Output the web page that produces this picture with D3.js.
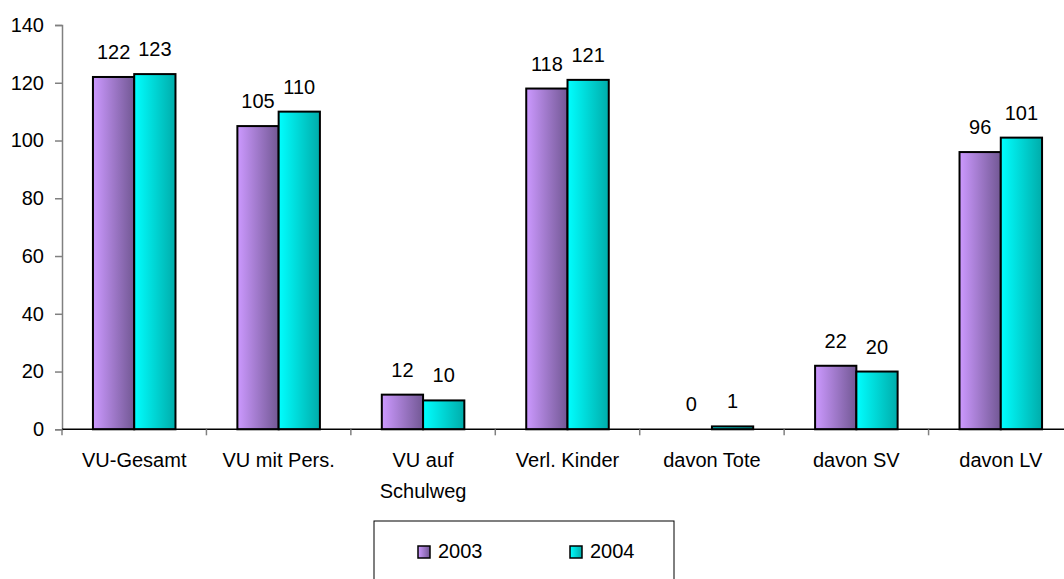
<!DOCTYPE html>
<html><head><meta charset="utf-8">
<script src="https://cdn.jsdelivr.net/npm/d3@7"></script>
<style>body{margin:0;background:#fff;} svg{display:block;font-family:"Liberation Sans",Arial,sans-serif;}</style>
</head><body>
<svg id="c" width="1064" height="579"></svg>
<script>
const categories = ["VU-Gesamt", "VU mit Pers.", "VU auf\nSchulweg", "Verl. Kinder", "davon Tote", "davon SV", "davon LV"];
const series = ["2003", "2004"];
const values2003 = [122, 105, 12, 118, 0, 22, 96];
const values2004 = [123, 110, 10, 121, 1, 20, 101];
const yTicks = [0, 20, 40, 60, 80, 100, 120, 140];

(function () {
const FS = 20;
const svg = d3.select("#c");
const defs = svg.append("defs");
function grad(id, c1, c2) {
  const g = defs.append("linearGradient").attr("id", id).attr("x1", "0").attr("x2", "1").attr("y1", "0").attr("y2", "0");
  g.append("stop").attr("offset", "0").attr("stop-color", c1);
  g.append("stop").attr("offset", "1").attr("stop-color", c2);
}
grad("g2003", "#cc99ff", "#725894");
grad("g2004", "#00ffff", "#00acaa");
const fills = {"2003": "url(#g2003)", "2004": "url(#g2004)"};

const pLeft = 62, pRight = 1073, pTop = 25, pBottom = 429.3;
const x = d3.scaleBand().domain(categories).range([pLeft, pRight]).paddingInner(0).paddingOuter(0);
const xs = d3.scaleBand().domain(series).range([0, x.bandwidth()]).paddingInner(0).paddingOuter(0.75);
const y = d3.scaleLinear().domain([0, 140]).range([pBottom, pTop]);

// y axis
const ya = svg.append("g").attr("transform", `translate(${pLeft},0)`)
  .call(d3.axisLeft(y).tickValues(yTicks).tickSize(7).tickPadding(11));
ya.select(".domain").attr("stroke", "#808080").attr("stroke-width", 1.5);
ya.selectAll(".tick line").attr("stroke", "#808080").attr("stroke-width", 1.5);
ya.selectAll("text").attr("font-size", FS).attr("fill", "#000").attr("font-family", "Liberation Sans, Arial, sans-serif");

const data = [];
categories.forEach((c, i) => {
  data.push({c, s: "2003", v: values2003[i]});
  data.push({c, s: "2004", v: values2004[i]});
});

const bars = svg.append("g");
bars.selectAll("rect").data(data).join("rect")
  .attr("x", d => x(d.c) + xs(d.s))
  .attr("width", xs.bandwidth())
  .attr("y", d => y(d.v))
  .attr("height", d => y(0) - y(d.v))
  .attr("fill", d => fills[d.s])
  .attr("stroke", "#000").attr("stroke-width", 2);

svg.append("g").selectAll("text").data(data).join("text")
  .attr("x", d => x(d.c) + xs(d.s) + xs.bandwidth() / 2)
  .attr("y", d => y(d.v) - 18)
  .attr("text-anchor", "middle")
  .attr("font-size", FS)
  .text(d => d.v);

// x axis
const xa = svg.append("g").attr("transform", `translate(0,${pBottom})`);
xa.append("line").attr("x1", pLeft).attr("x2", 1064).attr("stroke", "#000").attr("stroke-width", 1.5);
xa.selectAll("line.t").data(d3.range(categories.length + 1)).join("line").attr("class", "t")
  .attr("x1", i => pLeft + i * x.bandwidth()).attr("x2", i => pLeft + i * x.bandwidth())
  .attr("y1", 0).attr("y2", 6).attr("stroke", "#808080").attr("stroke-width", 1.5);
categories.forEach(c => {
  const t = xa.append("text").attr("x", x(c) + x.bandwidth() / 2).attr("y", 38)
    .attr("text-anchor", "middle").attr("font-size", FS);
  c.split("\n").forEach((line, j) => {
    t.append("tspan").attr("x", x(c) + x.bandwidth() / 2).attr("dy", j === 0 ? 0 : 31).text(line);
  });
});

// legend
const lg = svg.append("g");
lg.append("rect").attr("x", 374).attr("y", 521).attr("width", 300).attr("height", 70)
  .attr("fill", "#fff").attr("stroke", "#000").attr("stroke-width", 1);
const lx = [418, 570];
series.forEach((s, i) => {
  lg.append("rect").attr("x", lx[i]).attr("y", 546).attr("width", 12).attr("height", 12)
    .attr("fill", fills[s]).attr("stroke", "#000").attr("stroke-width", 1.5);
  lg.append("text").attr("x", lx[i] + 20).attr("y", 558).attr("font-size", FS).text(s);
});
})();
</script>
</body></html>
